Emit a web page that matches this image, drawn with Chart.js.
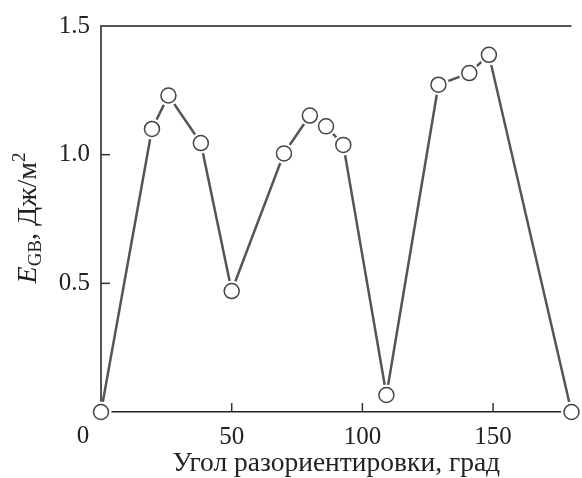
<!DOCTYPE html>
<html>
<head>
<meta charset="utf-8">
<script src="https://cdn.jsdelivr.net/npm/chart.js@4"></script>
<style>
  html, body { margin: 0; padding: 0; background: #fff; }
  #wrap { width: 582px; height: 478px; }
</style>
</head>
<body>
<div id="wrap"><canvas id="chart"></canvas></div>
<script>
// данные
const angles = [0, 19.5, 25.8, 38.2, 50, 70, 79.9, 86.1, 92.7, 109.2, 129.1, 140.9, 148.4, 180];
const energy = [0, 1.10, 1.23, 1.045, 0.47, 1.005, 1.152, 1.11, 1.038, 0.066, 1.272, 1.317, 1.388, 0];
const xTicks = [0, 50, 100, 150];
const yTicks = [0, 0.5, 1.0, 1.5];

const FONT = "'Liberation Serif', 'Times New Roman', serif";
const INK = '#555';

const points = angles.map((a, i) => ({ x: a, y: energy[i] }));

// засечки внутрь, верхняя рамка, подпись оси Y и "0" в углу
const framePlugin = {
  id: 'frame',
  afterDatasetsDraw(chart) {
    const { ctx, chartArea: a, scales: { x, y } } = chart;
    ctx.save();
    ctx.strokeStyle = INK;
    ctx.lineWidth = 2;
    ctx.beginPath();
    ctx.moveTo(a.left, a.top);
    ctx.lineTo(a.right, a.top);
    ctx.stroke();

    ctx.lineWidth = 1.5;
    ctx.strokeStyle = '#333';
    xTicks.slice(1).forEach(v => {
      const px = x.getPixelForValue(v);
      ctx.beginPath();
      ctx.moveTo(px, a.bottom);
      ctx.lineTo(px, a.bottom - 9);
      ctx.stroke();
    });
    yTicks.slice(1, -1).forEach(v => {
      const py = y.getPixelForValue(v);
      ctx.beginPath();
      ctx.moveTo(a.left, py);
      ctx.lineTo(a.left + 9, py);
      ctx.stroke();
    });

    ctx.fillStyle = '#222';
    ctx.font = `25px ${FONT}`;
    ctx.textAlign = 'center';
    ctx.textBaseline = 'middle';
    ctx.fillText('0', x.getPixelForValue(0) - 18, 436);

    // E_GB, Дж/м²
    const parts = [
      { t: 'E', f: `italic 28px ${FONT}`, dy: 0 },
      { t: 'GB', f: `19px ${FONT}`, dy: 5 },
      { t: ', Дж/м', f: `28px ${FONT}`, dy: 0 },
      { t: '2', f: `19px ${FONT}`, dy: -11 }
    ];
    let total = 0;
    parts.forEach(p => { ctx.font = p.f; p.w = ctx.measureText(p.t).width; total += p.w; });
    ctx.translate(36, 218);
    ctx.rotate(-Math.PI / 2);
    ctx.textAlign = 'left';
    ctx.textBaseline = 'alphabetic';
    let cx = -total / 2;
    parts.forEach(p => {
      ctx.font = p.f;
      ctx.fillText(p.t, cx, p.dy);
      cx += p.w;
    });
    ctx.restore();
  }
};

function draw() {
  new Chart(document.getElementById('chart'), {
    type: 'scatter',
    data: {
      datasets: [
        {
          // кружки поверх линии
          data: points,
          showLine: false,
          pointRadius: 7.5,
          pointBorderWidth: 1.5,
          pointBorderColor: '#444',
          pointBackgroundColor: '#fff',
          clip: false,
          order: 0
        },
        {
          // линия с белыми «ореолами» вокруг точек
          data: points,
          showLine: true,
          borderColor: INK,
          borderWidth: 2.5,
          pointRadius: 10.5,
          pointBorderWidth: 0,
          pointBackgroundColor: '#fff',
          clip: false,
          order: 1
        }
      ]
    },
    options: {
      responsive: true,
      maintainAspectRatio: false,
      animation: false,
      layout: { padding: { top: 24, right: 0, left: 0, bottom: 0 } },
      plugins: {
        legend: { display: false },
        tooltip: { enabled: false }
      },
      scales: {
        x: {
          type: 'linear',
          min: 0,
          max: 180,
          afterFit: s => { s.height = 66; },
          grid: { display: false, drawTicks: false },
          border: { display: true, color: '#222', width: 1.5 },
          ticks: {
            stepSize: 50,
            includeBounds: false,
            padding: 10,
            color: '#222',
            font: { family: FONT, size: 25 },
            callback: v => (v === 0 ? '' : v)
          },
          title: {
            display: true,
            text: 'Угол разориентировки, град',
            color: '#222',
            font: { family: FONT, size: 27.5 },
            padding: { top: 0, bottom: -2 }
          }
        },
        y: {
          min: 0,
          max: 1.5,
          afterFit: s => { s.width = 101; },
          grid: { display: false, drawTicks: false },
          border: { display: true, color: INK, width: 2 },
          ticks: {
            stepSize: 0.5,
            padding: 11,
            color: '#222',
            font: { family: FONT, size: 25 },
            callback: v => (v === 0 ? '' : v.toFixed(1))
          }
        }
      }
    },
    plugins: [framePlugin]
  });
}

Promise.all([
  document.fonts.load("25px 'Liberation Serif'"),
  document.fonts.load("italic 25px 'Liberation Serif'")
]).then(draw, draw);
</script>
</body>
</html>
